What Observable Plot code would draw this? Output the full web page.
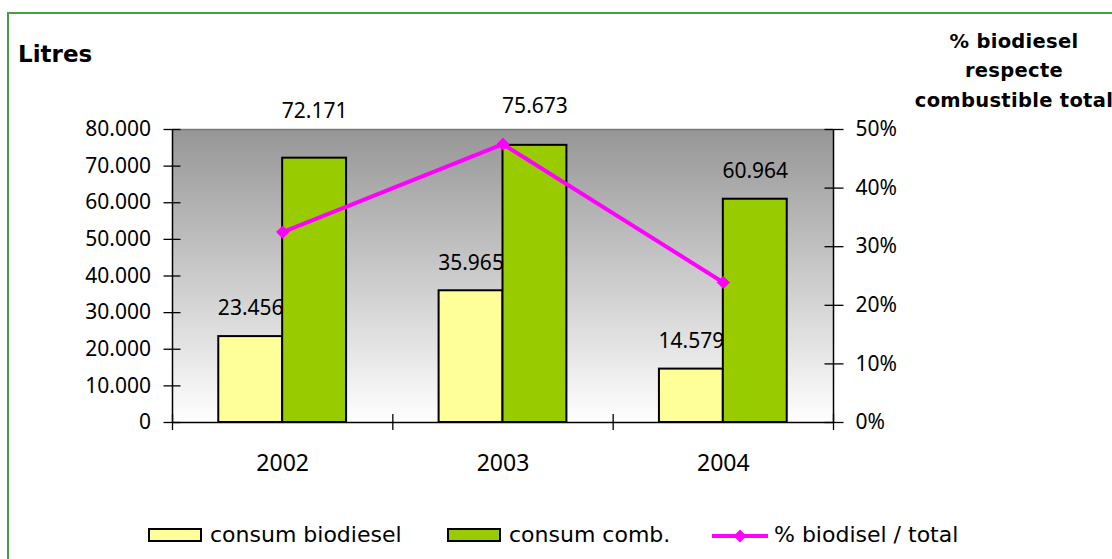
<!DOCTYPE html>
<html>
<head>
<meta charset="utf-8">
<script src="https://cdn.jsdelivr.net/npm/d3@7"></script>
<script src="https://cdn.jsdelivr.net/npm/@observablehq/plot@0.6"></script>
<style>
  html, body { margin: 0; padding: 0; background: #fff; }
  #wrap { position: relative; width: 1112px; height: 559px; overflow: hidden; background: #fff; }
  #wrap > svg { position: absolute; left: 0; top: 0; }
  .border { position: absolute; left: 7px; top: 12px; width: 1120px; height: 600px; border: 2px solid #43a043; box-sizing: border-box; }
  .ttl { position: absolute; font-family: "DejaVu Sans", sans-serif; font-weight: bold; color: #000; white-space: nowrap; }
  .leg { position: absolute; font-family: "DejaVu Sans", sans-serif; font-size: 22px; line-height: 22px; color: #000; white-space: nowrap; }
  .sw { position: absolute; box-sizing: border-box; border: 2px solid #000; }
</style>
</head>
<body>
<div id="wrap">
  <div class="border"></div>
</div>
<script>
// ---- data ----
const years = [2002, 2003, 2004];
const biodiesel = [23456, 35965, 14579];       // consum biodiesel (litres)
const combustible = [72171, 75673, 60964];     // consum comb. (litres)
const pctBiodiesel = [0.325, 0.475, 0.239];    // % biodiesel / total
const leftTicks = [0, 10000, 20000, 30000, 40000, 50000, 60000, 70000, 80000];
const rightTicks = [0, 0.1, 0.2, 0.3, 0.4, 0.5];
const seriesNames = ["consum biodiesel", "consum comb.", "% biodisel / total"];
const leftTitle = "Litres";
const rightTitle = ["% biodiesel", "respecte", "combustible total"];

const colBio = "#ffff99", colComb = "#99cc00", colPct = "#ff00ff";

const rows = years.map((year, i) => ({year, bio: biodiesel[i], comb: combustible[i], pct: pctBiodiesel[i]}));

const yMax = 80000, pMax = 0.5, k = yMax / pMax;
const half = 0.29; // bar width in category units
const locale = d3.formatLocale({decimal: ",", thousands: ".", grouping: [3], currency: ["", ""]});
const fmt = locale.format(",d");

const gradientDefs = () => {
  const g = document.createElementNS("http://www.w3.org/2000/svg", "defs");
  g.innerHTML = '<linearGradient id="bg-grad" x1="0" y1="0" x2="0" y2="1"><stop offset="0" stop-color="#969696"/><stop offset="1" stop-color="#ffffff"/></linearGradient>';
  return g;
};

const chart = Plot.plot({
  width: 1112,
  height: 559,
  marginTop: 129,
  marginBottom: 137,
  marginLeft: 172,
  marginRight: 279,
  style: {fontFamily: "'Noto Sans', sans-serif", fontSize: "21px", color: "#000", background: "transparent", overflow: "visible"},
  x: {type: "linear", domain: [years[0] - 0.5, years[years.length - 1] + 0.5]},
  y: {domain: [0, yMax]},
  marks: [
    gradientDefs,
    Plot.frame({fill: "url(#bg-grad)", stroke: "none"}),
    Plot.ruleY([yMax], {stroke: "#7a7a7a", strokeWidth: 1.5}),
    Plot.rectY(rows, {x1: d => d.year - half, x2: d => d.year, y: "bio", fill: colBio, stroke: "#000", strokeWidth: 2}),
    Plot.rectY(rows, {x1: d => d.year, x2: d => d.year + half, y: "comb", fill: colComb, stroke: "#000", strokeWidth: 2}),
    Plot.line(rows, {x: "year", y: d => d.pct * k, stroke: colPct, strokeWidth: 4}),
    Plot.dot(rows, {x: "year", y: d => d.pct * k, symbol: "diamond2", r: 5.5, fill: colPct, stroke: colPct, strokeWidth: 1}),
    Plot.ruleX([years[0] - 0.5, years[years.length - 1] + 0.5], {stroke: "#000", strokeWidth: 1.5}),
    Plot.ruleY([0], {stroke: "#000", strokeWidth: 1.5}),
    // value labels
    Plot.text(rows, {x: d => d.year - half / 2, y: "bio", text: d => fmt(d.bio), dy: -28, lineAnchor: "middle", fontSize: 21}),
    Plot.text(rows.filter(d => d.year === 2004), {x: d => d.year + half / 2, y: "comb", text: d => fmt(d.comb), dy: -28, lineAnchor: "middle", fontSize: 21}),
    Plot.text(rows.filter(d => d.year === 2002), {x: d => d.year + half / 2, y: "comb", text: d => fmt(d.comb), dy: -47, lineAnchor: "middle", fontSize: 21}),
    Plot.text(rows.filter(d => d.year === 2003), {x: d => d.year + half / 2, y: "comb", text: d => fmt(d.comb), dy: -39, lineAnchor: "middle", fontSize: 21}),
    // axes
    Plot.axisY({anchor: "left", ticks: leftTicks, tickSize: 17, dx: 8.5, tickPadding: 13, tickFormat: fmt, label: null, fontSize: 21, strokeWidth: 1.3}),
    Plot.axisY({anchor: "right", ticks: rightTicks.map(p => p * k), tickSize: 19, dx: -9.5, tickPadding: 12.5, tickFormat: d => Math.round(d / k * 100) + "%", label: null, fontSize: 21, strokeWidth: 1.3}),
    Plot.axisX({anchor: "bottom", ticks: [2001.5, 2002.5, 2003.5, 2004.5], tickSize: 16, dy: -8, tickFormat: () => "", label: null, strokeWidth: 1.3}),
    Plot.axisX({anchor: "bottom", ticks: years, tickSize: 0, tickPadding: 32, tickFormat: d => String(d), label: null, fontSize: 23})
  ]
});

const wrap = document.getElementById("wrap");
wrap.appendChild(chart);

// titles
const t1 = document.createElement("div");
t1.className = "ttl";
t1.style.cssText = "left:18px; top:42.6px; font-size:23px; line-height:23px;";
t1.textContent = leftTitle;
wrap.appendChild(t1);

const t2 = document.createElement("div");
t2.className = "ttl";
t2.style.cssText = "left:814px; width:400px; top:26.5px; font-size:19.5px; line-height:29.5px; text-align:center; letter-spacing:0.3px;";
t2.innerHTML = rightTitle.map(s => `<div>${s}</div>`).join("");
wrap.appendChild(t2);

// legend
function addSwatch(x, color) {
  const s = document.createElement("div");
  s.className = "sw";
  s.style.cssText = `left:${x}px; top:528px; width:54px; height:14px; background:${color};`;
  wrap.appendChild(s);
}
function addText(x, txt) {
  const t = document.createElement("div");
  t.className = "leg";
  t.style.cssText = `left:${x}px; top:524.4px;`;
  t.textContent = txt;
  wrap.appendChild(t);
}
addSwatch(148, colBio);
addText(210, seriesNames[0]);
addSwatch(447, colComb);
addText(509, seriesNames[1]);
const ls = document.createElementNS("http://www.w3.org/2000/svg", "svg");
ls.setAttribute("width", 60); ls.setAttribute("height", 20);
ls.style.cssText = "position:absolute; left:710px; top:526px;";
ls.innerHTML = `<line x1="2" y1="10" x2="58" y2="10" stroke="${colPct}" stroke-width="4"/><path d="M30,3.5 L36.5,10 L30,16.5 L23.5,10 Z" fill="${colPct}"/>`;
wrap.appendChild(ls);
addText(774, seriesNames[2]);
</script>
</body>
</html>
